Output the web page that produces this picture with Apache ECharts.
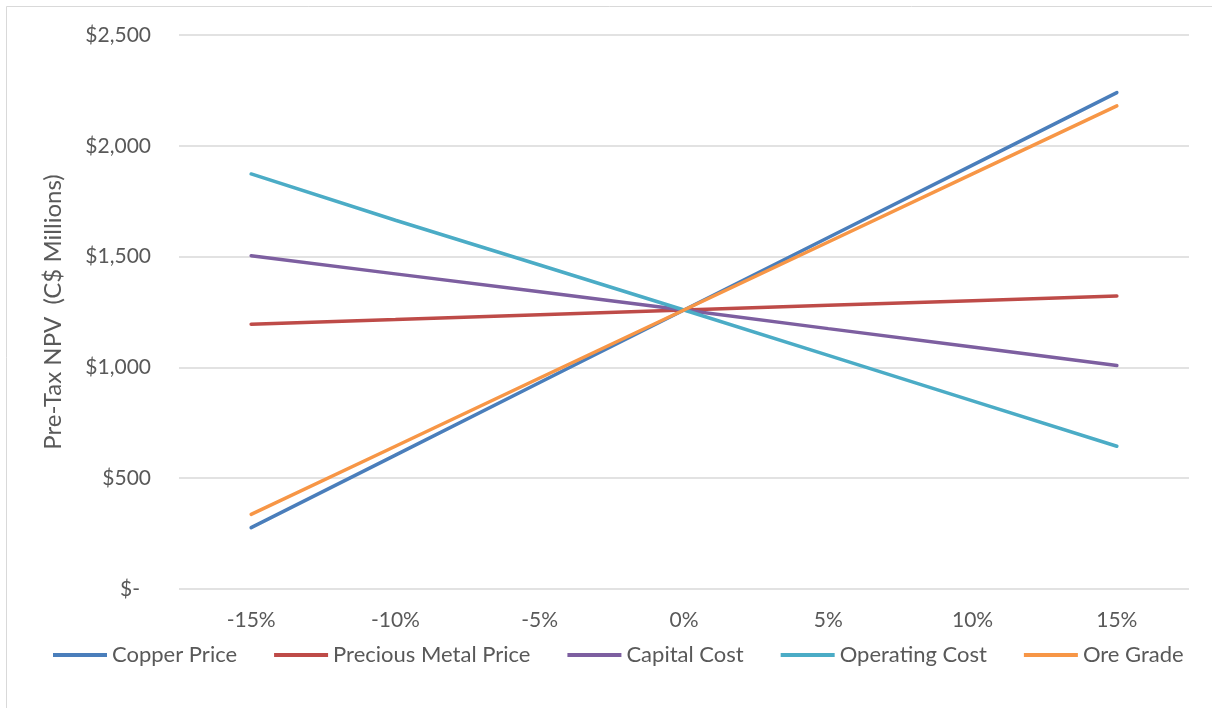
<!DOCTYPE html>
<html>
<head>
<meta charset="utf-8">
<title>Pre-Tax NPV Sensitivity</title>
<script src="https://cdn.jsdelivr.net/npm/echarts@6/dist/echarts.min.js"></script>
<style>
  html, body { margin: 0; padding: 0; background: #ffffff; }
  #chart { width: 1212px; height: 708px; }
</style>
</head>
<body>
<div id="chart"></div>
<script>
// Sensitivity of pre-tax NPV (C$ millions) to each input varied by ±15%
const categories = ['-15%', '-10%', '-5%', '0%', '5%', '10%', '15%'];
const copperPrice = [277, 604, 932, 1259, 1586, 1913, 2240];
const preciousMetalPrice = [1195, 1216, 1238, 1259, 1280, 1301, 1322];
const capitalCost = [1504, 1422, 1341, 1259, 1175, 1092, 1009];
const operatingCost = [1873, 1664, 1462, 1259, 1054, 849, 644];
const oreGrade = [337, 644, 952, 1259, 1566, 1873, 2180];
const yTicks = [0, 500, 1000, 1500, 2000, 2500];

const seriesDefs = [
  { name: 'Copper Price', data: copperPrice, color: '#4a7ebb' },
  { name: 'Precious Metal Price', data: preciousMetalPrice, color: '#be4b48' },
  { name: 'Capital Cost', data: capitalCost, color: '#7d5fa0' },
  { name: 'Operating Cost', data: operatingCost, color: '#4bacc6' },
  { name: 'Ore Grade', data: oreGrade, color: '#f79646' }
];

const textColor = '#595959';
const fontFamily = 'Lato, "Open Sans", sans-serif';

const chart = echarts.init(document.getElementById('chart'), null, { renderer: 'canvas' });

function moneyLabel(v) {
  if (v === 0) return '{z|$-}';
  return '$' + v.toLocaleString('en-US');
}

chart.setOption({
  backgroundColor: '#ffffff',
  animation: false,
  color: seriesDefs.map(s => s.color),
  textStyle: { fontFamily: fontFamily },
  graphic: [{
    type: 'rect',
    shape: { x: 6.5, y: 6.5, width: 1220, height: 720 },
    style: { fill: 'none', stroke: '#d9d9d9', lineWidth: 1 },
    silent: true
  }],
  grid: { left: 179, right: 23, top: 35, bottom: 119, containLabel: false },
  legend: {
    left: 48,
    top: 639,
    icon: 'rect',
    itemWidth: 54,
    itemHeight: 4,
    itemGap: 37,
    textStyle: { color: textColor, fontSize: 22, fontFamily: fontFamily, lineHeight: 22 },
    data: seriesDefs.map(s => s.name)
  },
  xAxis: {
    type: 'category',
    data: categories,
    boundaryGap: true,
    axisLine: { show: false },
    axisTick: { show: false },
    axisLabel: { color: textColor, fontSize: 21, fontFamily: fontFamily, margin: 21 },
    splitLine: { show: false }
  },
  yAxis: {
    type: 'value',
    min: yTicks[0],
    max: yTicks[yTicks.length - 1],
    interval: 500,
    name: 'Pre-Tax NPV  (C$ Millions)',
    nameLocation: 'middle',
    nameGap: 114,
    nameTextStyle: { color: textColor, fontSize: 24, fontFamily: fontFamily },
    axisLine: { show: false },
    axisTick: { show: false },
    axisLabel: {
      color: textColor,
      fontSize: 21,
      fontFamily: fontFamily,
      margin: 28,
      formatter: moneyLabel,
      rich: { z: { color: textColor, fontSize: 21, fontFamily: fontFamily, padding: [0, 11, 0, 0] } }
    },
    splitLine: { show: true, lineStyle: { color: '#d9d9d9', width: 1.5 } }
  },
  series: seriesDefs.map(s => ({
    name: s.name,
    type: 'line',
    data: s.data,
    symbol: 'none',
    lineStyle: { color: s.color, width: 3.5, cap: 'round' },
    itemStyle: { color: s.color }
  }))
});
</script>
</body>
</html>
